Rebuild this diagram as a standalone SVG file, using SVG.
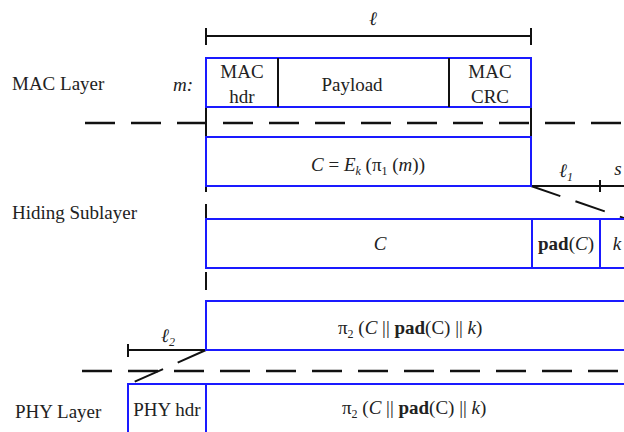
<svg xmlns="http://www.w3.org/2000/svg" width="624" height="432" viewBox="0 0 624 432">
<style>
text{font-family:"Liberation Serif","Times New Roman",serif;font-size:19px;fill:#222}
.c{text-anchor:middle}
.i{font-style:italic}
.b{font-weight:bold}
.box{fill:#fff;stroke:#1a1aff;stroke-width:2}
.bl{stroke:#1a1aff;stroke-width:2;fill:none}
.k{stroke:#111;stroke-width:2;fill:none}
.dash{stroke:#111;stroke-width:2.4;fill:none;stroke-dasharray:30 16}
.ddiag{stroke:#111;stroke-width:2;fill:none;stroke-dasharray:31 16}
</style>
<rect width="624" height="432" fill="#fff"/>
<g id="labels">
<text x="12" y="90">MAC Layer</text>
<text x="12" y="219">Hiding Sublayer</text>
<text x="15" y="418">PHY Layer</text>
</g>
<g id="connectors">
<!-- l dimension -->
<line class="k" x1="206" y1="36" x2="531" y2="36"/>
<line class="k" x1="206" y1="28" x2="206" y2="45"/>
<line class="k" x1="531" y1="28" x2="531" y2="45"/>
<text class="c i" x="373" y="25">ℓ</text>
<!-- layer separators -->
<line class="dash" x1="85" y1="123" x2="624" y2="123"/>
<line class="dash" x1="82" y1="371" x2="624" y2="371"/>
<!-- vertical guides -->
<line class="k" x1="206" y1="107" x2="206" y2="138"/>
<line class="k" x1="531" y1="107" x2="531" y2="138"/>
<line class="k" x1="206" y1="186" x2="206" y2="192"/>
<line class="k" x1="206" y1="204" x2="206" y2="219"/>
<line class="k" x1="206" y1="272" x2="206" y2="290"/>
<!-- l1 / s dimension -->
<line class="k" x1="531" y1="186" x2="624" y2="186"/>
<line class="k" x1="600" y1="180" x2="600" y2="192"/>
<text class="c i" x="566" y="177">ℓ<tspan font-size="12" dy="4">1</tspan></text>
<text class="c i" x="618" y="175">s</text>
<line class="ddiag" x1="531" y1="186" x2="624" y2="218"/>
<!-- l2 dimension -->
<line class="k" x1="128" y1="350" x2="206" y2="350"/>
<line class="k" x1="128" y1="344" x2="128" y2="357"/>
<text class="c i" x="168" y="342">ℓ<tspan font-size="12" dy="4">2</tspan></text>
<line class="ddiag" x1="206" y1="350" x2="134" y2="382"/>
</g>
<g id="mac">
<rect class="box" x="206" y="58" width="325" height="49"/>
<line class="k" x1="278" y1="58" x2="278" y2="107"/>
<line class="k" x1="449" y1="58" x2="449" y2="107"/>
<text class="c i" x="183" y="91">m:</text>
<text class="c" x="242" y="78">MAC</text>
<text class="c" x="242" y="103">hdr</text>
<text class="c" x="352" y="91">Payload</text>
<text class="c" x="490" y="78">MAC</text>
<text class="c" x="490" y="103">CRC</text>
</g>
<g id="enc">
<rect class="box" x="206" y="137" width="325" height="49"/>
<text class="c i" x="368" y="171">C<tspan font-style="normal"> = </tspan>E<tspan font-size="12" dy="4">k</tspan><tspan dy="-4" font-style="normal"> (π</tspan><tspan font-size="12" dy="4" font-style="normal">1</tspan><tspan dy="-4" font-style="normal"> (</tspan>m<tspan font-style="normal">))</tspan></text>
</g>
<g id="padded">
<rect class="box" x="206" y="219" width="430" height="49"/>
<line class="bl" x1="532" y1="219" x2="532" y2="268"/>
<line class="bl" x1="600" y1="219" x2="600" y2="268"/>
<text class="c i" x="380" y="250">C</text>
<text class="c" x="566" y="250"><tspan class="b">pad</tspan>(<tspan class="i">C</tspan>)</text>
<text class="c i" x="617" y="250">k</text>
</g>
<g id="perm">
<rect class="box" x="206" y="301" width="430" height="49"/>
<text x="338" y="334">π<tspan font-size="12" dy="4">2</tspan><tspan dy="-4"> (</tspan><tspan class="i">C</tspan> || <tspan class="b">pad</tspan>(C) || <tspan class="i">k</tspan>)</text>
</g>
<g id="phy">
<rect class="box" x="128" y="384" width="78" height="60"/>
<rect class="box" x="206" y="384" width="430" height="60"/>
<text class="c" x="167" y="416">PHY hdr</text>
<text x="342" y="414">π<tspan font-size="12" dy="4">2</tspan><tspan dy="-4"> (</tspan><tspan class="i">C</tspan> || <tspan class="b">pad</tspan>(C) || <tspan class="i">k</tspan>)</text>
</g>
</svg>
